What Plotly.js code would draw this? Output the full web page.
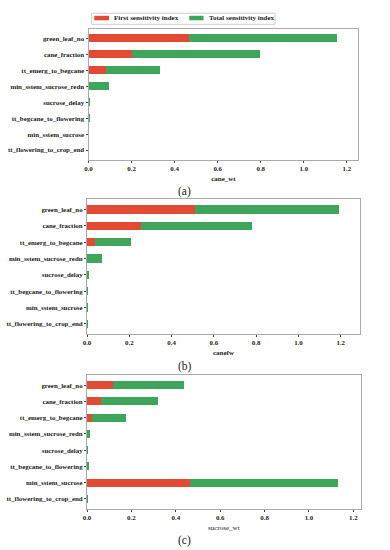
<!DOCTYPE html>
<html>
<head>
<meta charset="utf-8">
<script src="https://cdn.plot.ly/plotly-3.0.1.min.js"></script>
<style>html,body{margin:0;padding:0;background:#fff;}#chart{width:390px;height:550px;}</style>
</head>
<body>
<div id="chart"></div>
<script>
const params = ["green_leaf_no","cane_fraction","tt_emerg_to_begcane","min_sstem_sucrose_redn","sucrose_delay","tt_begcane_to_flowering","min_sstem_sucrose","tt_flowering_to_crop_end"];
const seriesNames = ["First sensitivity index","Total sensitivity index"];
// (a) cane_wt
const caneWtFirst = [0.466,0.204,0.079,0.002,0.001,0.000,0.000,0.000];
const caneWtTotal = [0.687,0.593,0.255,0.094,0.008,0.005,0.004,0.004];
// (b) canefw
const canefwFirst = [0.511,0.254,0.038,0.002,0.001,0.000,0.000,0.000];
const canefwTotal = [0.680,0.525,0.170,0.067,0.007,0.003,0.003,0.003];
// (c) sucrose_wt
const sucroseFirst = [0.117,0.065,0.021,0.002,0.000,0.001,0.462,0.000];
const sucroseTotal = [0.320,0.257,0.153,0.011,0.006,0.008,0.668,0.006];
const xTitles = ["cane_wt","canefw","sucrose_wt"];
const captions = ["(a)","(b)","(c)"];
const xTicks = [0,0.2,0.4,0.6,0.8,1.0,1.2];
const xTickText = ["0.0","0.2","0.4","0.6","0.8","1.0","1.2"];

const RED = "#E24A33", GREEN = "#3DA65A";
const W = 390, H = 550;
const FONT = "Liberation Serif, Times New Roman, serif";
const panels = [
  {first: caneWtFirst, total: caneWtTotal, xd:[88.5,358.3], yd:[28.5,160], xmax:1.253, tw:"bold"},
  {first: canefwFirst, total: canefwTotal, xd:[87,360], yd:[199.3,334], xmax:1.291, tw:"bold"},
  {first: sucroseFirst, total: sucroseTotal, xd:[87,360.7], yd:[375,509], xmax:1.233, tw:"normal"}
];
const tickFont = {family:FONT, size:6.9, color:"#222", weight:"bold"};
const data = [];
const py = v => 1 - v/H, px = v => v/W;
const layout = {
  width:W, height:H, margin:{l:0,r:0,t:0,b:0},
  paper_bgcolor:"#fff", plot_bgcolor:"#fff",
  barmode:"stack", showlegend:false,
  font:{family:FONT, color:"#222"},
  annotations:[], shapes:[]
};
panels.forEach((p,i)=>{
  const xa = i===0?"x":"x"+(i+1), ya = i===0?"y":"y"+(i+1);
  data.push({type:"bar", orientation:"h", name:seriesNames[0], x:p.first, y:params,
    xaxis:xa, yaxis:ya, marker:{color:RED}, width:0.5});
  data.push({type:"bar", orientation:"h", name:seriesNames[1], x:p.total, y:params,
    xaxis:xa, yaxis:ya, marker:{color:GREEN}, width:0.5});
  const xk = i===0?"xaxis":"xaxis"+(i+1), yk = i===0?"yaxis":"yaxis"+(i+1);
  layout[xk] = {domain:[px(p.xd[0]), px(p.xd[1])], anchor:ya, range:[0,p.xmax],
    tickvals:xTicks, ticktext:xTickText, showgrid:false, zeroline:false,
    showline:true, linecolor:"#aaaaaa", linewidth:1, mirror:true,
    ticks:"outside", ticklen:2, tickcolor:"#444", tickfont:tickFont,
    title:{text:xTitles[i], font:{family:FONT, size:7, color:"#222", weight:p.tw}, standoff:4}};
  layout[yk] = {domain:[py(p.yd[1]), py(p.yd[0])], anchor:xa, type:"category",
    categoryorder:"array", categoryarray:params, range:[7.625,-0.625],
    showgrid:false, zeroline:false, showline:true, linecolor:"#aaaaaa", linewidth:1, mirror:true,
    ticks:"outside", ticklen:2, tickcolor:"#444", tickfont:tickFont};
});
// legend drawn by hand (box, swatches, labels)
layout.shapes.push({type:"rect", xref:"paper", yref:"paper", x0:px(91.7), x1:px(275), y0:py(24.3), y1:py(13.2),
  line:{color:"#cccccc", width:1}, fillcolor:"#fff"});
layout.shapes.push({type:"rect", xref:"paper", yref:"paper", x0:px(94.3), x1:px(109), y0:py(20.3), y1:py(15.8),
  line:{width:0}, fillcolor:RED});
layout.shapes.push({type:"rect", xref:"paper", yref:"paper", x0:px(189.3), x1:px(203.5), y0:py(20.3), y1:py(15.8),
  line:{width:0}, fillcolor:GREEN});
[[113,seriesNames[0]],[208.3,seriesNames[1]]].forEach(([x,t])=>{
  layout.annotations.push({text:t, xref:"paper", yref:"paper", x:px(x), y:py(18.2), xanchor:"left", yanchor:"middle",
    showarrow:false, font:{family:FONT, size:7, color:"#222", weight:"bold"}, borderpad:0});
});
const capY = [191, 366, 540];
capY.forEach((y,i)=>{
  layout.annotations.push({text:captions[i], xref:"paper", yref:"paper", x:px(184.5), y:py(y),
    xanchor:"center", yanchor:"middle", showarrow:false,
    font:{family:FONT, size:11.5, color:"#222"}});
});
Plotly.newPlot("chart", data, layout, {displayModeBar:false, staticPlot:true});
</script>
</body>
</html>
